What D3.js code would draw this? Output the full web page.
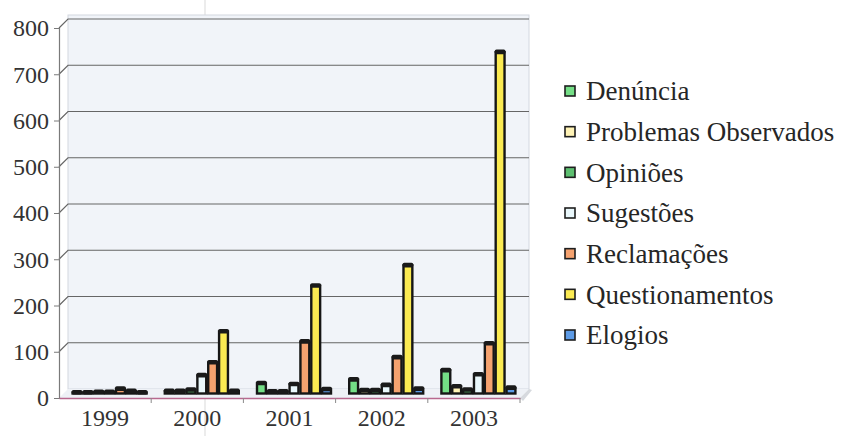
<!DOCTYPE html>
<html>
<head>
<meta charset="utf-8">
<script src="https://cdn.jsdelivr.net/npm/d3@7"></script>
<style>
  html, body { margin: 0; padding: 0; background: #ffffff; }
  svg { display: block; }
  .lbl { font-family: "Liberation Serif", "DejaVu Serif", "Times New Roman", serif; }
</style>
</head>
<body>
<svg id="chart" width="844" height="436"></svg>
<script>
// Manifestações registradas por ano e por tipo
const years = ["1999", "2000", "2001", "2002", "2003"];
const seriesNames = ["Denúncia", "Problemas Observados", "Opiniões", "Sugestões",
                     "Reclamações", "Questionamentos", "Elogios"];
const denuncia        = [2, 5, 22, 30, 50];
const problemas       = [2, 5, 4, 7, 15];
const opinioes        = [3, 8, 4, 7, 8];
const sugestoes       = [3, 39, 20, 18, 41];
const reclamacoes     = [10, 67, 112, 78, 108];
const questionamentos = [5, 134, 233, 277, 738];
const elogios         = [2, 5, 9, 10, 12];
const yTicks = [0, 100, 200, 300, 400, 500, 600, 700, 800];

const seriesValues = [denuncia, problemas, opinioes, sugestoes, reclamacoes, questionamentos, elogios];
const barColors    = ["#74de86", "#fff3b6", "#5dbf70", "#e9f7fb", "#f5a26f", "#fbea52", "#5d9be6"];

(function drawChart() {
  const svg = d3.select("#chart");
  const serif = '"Liberation Serif", "DejaVu Serif", "Times New Roman", serif';

  // front edge of the plot floor and depth offset of the back wall
  const pLeft = 59, pRight = 520, pBase = 398, pTop = 28;
  const depthX = 9, depthY = -9;

  const x = d3.scaleBand().domain(years).range([pLeft, pRight]).paddingInner(0).paddingOuter(0);
  const y = d3.scaleLinear().domain([0, 800]).range([pBase, pTop]);
  const xs = d3.scaleBand().domain(seriesNames).range([0, 76]).padding(0);

  // scanned-page fold line
  svg.append("line")
    .attr("x1", 205).attr("x2", 205).attr("y1", 0).attr("y2", 436)
    .attr("stroke", "#c9c9c9").attr("stroke-width", 1).attr("opacity", 0.7);

  // back wall
  svg.append("rect")
    .attr("x", pLeft + depthX).attr("y", pTop + depthY - 4)
    .attr("width", pRight - pLeft).attr("height", pBase - pTop + 4)
    .attr("fill", "#f1f4f9").attr("stroke", "#d3d8e0").attr("stroke-width", 1);

  // floor
  svg.append("path")
    .attr("d", `M${pLeft},${pBase} L${pRight},${pBase} L${pRight + depthX},${pBase + depthY} L${pLeft + depthX},${pBase + depthY} Z`)
    .attr("fill", "#eef1f6");

  // shadow on the right corner of the floor
  svg.append("path")
    .attr("d", `M${pRight + depthX},${pBase + depthY} L${pRight + depthX + 3},${pBase + depthY + 1} L${pRight + 3},${pBase + 3} L${pRight},${pBase} Z`)
    .attr("fill", "#d6d9de");

  // gridlines on the back wall with their side-wall connectors
  const grid = svg.append("g");
  yTicks.forEach(t => {
    if (t === 0) return;
    grid.append("path")
      .attr("d", `M${pLeft},${y(t)} L${pLeft + depthX},${y(t) + depthY} L${pRight + depthX},${y(t) + depthY}`)
      .attr("fill", "none").attr("stroke", "#666").attr("stroke-width", 1.2);
  });

  // y axis
  const yAxis = d3.axisLeft(y).tickValues(yTicks).tickSize(5).tickPadding(5).tickFormat(d3.format("d"));
  const gy = svg.append("g").attr("transform", `translate(${pLeft},0)`).call(yAxis);
  gy.attr("font-family", serif);
  gy.select(".domain").attr("stroke", "#7a7a7a").attr("stroke-width", 1.2);
  gy.selectAll(".tick line").attr("stroke", "#7a7a7a");
  gy.selectAll(".tick text")
    .attr("class", "lbl").style("font-size", "24px")
    .attr("fill", "#333").attr("dy", "0.33em");

  // x axis (front edge of the floor)
  const xAxis = d3.axisBottom(x).tickSize(0).tickPadding(14);
  const gx = svg.append("g").attr("transform", `translate(0,${pBase})`).call(xAxis);
  gx.attr("font-family", serif);
  gx.select(".domain").attr("stroke", "#b8688e").attr("stroke-width", 1.4);
  gx.selectAll(".tick text")
    .attr("class", "lbl").style("font-size", "24px")
    .attr("fill", "#333").attr("dy", "0.6em");
  // category separators
  svg.append("g").selectAll("line").data(years.slice(1).concat(["end"]))
    .join("line")
    .attr("x1", d => d === "end" ? pRight : x(d)).attr("x2", d => d === "end" ? pRight : x(d))
    .attr("y1", pBase).attr("y2", pBase + 5)
    .attr("stroke", "#8a8a8a").attr("stroke-width", 1);

  // bars, set at mid-depth
  const midX = depthX / 2, midY = depthY / 2;
  const groupOffset = (x.bandwidth() - 76) / 2 + midX;
  const bars = [];
  years.forEach((yr, i) => {
    seriesNames.forEach((s, j) => {
      bars.push({ year: yr, series: s, value: seriesValues[j][i], color: barColors[j] });
    });
  });

  const gb = svg.append("g");
  const barW = xs.bandwidth();
  bars.forEach(b => {
    const bx = x(b.year) + groupOffset + xs(b.series);
    const by = y(b.value) + midY;
    const bh = Math.max(0.5, y(0) - y(b.value));
    gb.append("rect")
      .attr("x", bx + 1).attr("y", by)
      .attr("width", barW - 2).attr("height", bh)
      .attr("fill", b.color).attr("stroke", "#161616").attr("stroke-width", 2.4);
    // dark top face of the column
    gb.append("rect")
      .attr("x", bx).attr("y", by - 2.6)
      .attr("width", barW).attr("height", 4.6).attr("rx", 1.8)
      .attr("fill", "#1a1a1a");
  });

  // legend
  const legend = svg.append("g").attr("transform", "translate(565,0)");
  const rowY = d3.scalePoint().domain(seriesNames).range([91, 335]);
  seriesNames.forEach((s, j) => {
    const cy = rowY(s);
    legend.append("rect")
      .attr("x", 0).attr("y", cy - 5).attr("width", 10).attr("height", 10)
      .attr("fill", barColors[j]).attr("stroke", "#1e1e1e").attr("stroke-width", 1.6);
    legend.append("text")
      .attr("class", "lbl")
      .attr("x", 21).attr("y", cy).attr("dy", "0.35em")
      .attr("fill", "#262626")
      .style("font-size", "27px")
      .text(s);
  });
})();
</script>
</body>
</html>
